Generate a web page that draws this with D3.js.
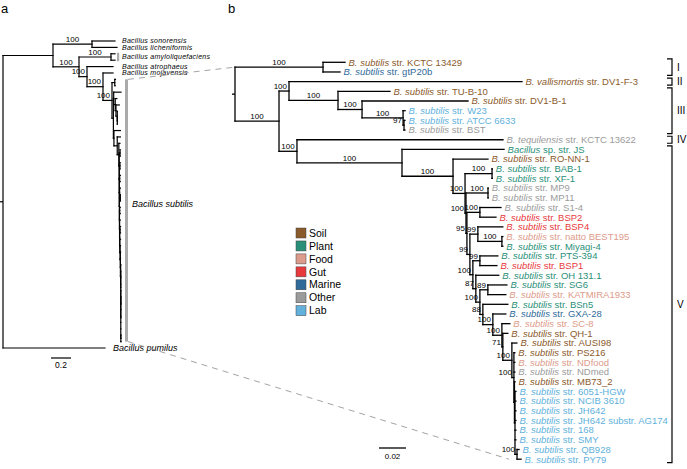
<!DOCTYPE html>
<html><head><meta charset="utf-8">
<script src="https://cdn.jsdelivr.net/npm/d3@7/dist/d3.min.js"></script>
<style>
html,body{margin:0;padding:0;background:#fff;}
svg{display:block;}
text{font-family:"Liberation Sans",Arial,Helvetica,sans-serif;}
.narrow{font-family:"Liberation Sans Narrow","Arial Narrow","Liberation Sans",Arial,sans-serif;}
</style></head><body>
<svg id="chart" width="687" height="469"></svg>
<script>
// ================= DATA =================
const sourceNames  = ["Soil","Plant","Food","Gut","Marine","Other","Lab"];
const sourceColors = ["#8b5a2b","#2a8f79","#dd9b8b","#e8393d","#2f6a9a","#9b9b9b","#61b1dc"];

// panel b leaves, top to bottom
const leafIds = ["KCTC13429","gtP20b","DV1F3","TUB10","DV1B1","W23","ATCC6633","BST","KCTC13622","JS",
  "RONN1","BAB1","XF1","MP9","MP11","S14","BSP2","BSP4","BEST195","Miyagi4","PTS394","BSP1","OH1311",
  "SG6","KATMIRA1933","BSn5","GXA28","SC8","QH1","AUSI98","PS216","NDfood","NDmed","MB73_2","HGW6051",
  "NCIB3610","JH642","AG174","S168","SMY","QB928","PY79"];
const leafTaxa = ["B. subtilis","B. subtilis","B. vallismortis","B. subtilis","B. subtilis","B. subtilis",
  "B. subtilis","B. subtilis","B. tequilensis","Bacillus",
  "B. subtilis","B. subtilis","B. subtilis","B. subtilis","B. subtilis","B. subtilis","B. subtilis",
  "B. subtilis","B. subtilis","B. subtilis","B. subtilis","B. subtilis","B. subtilis","B. subtilis",
  "B. subtilis","B. subtilis","B. subtilis","B. subtilis","B. subtilis","B. subtilis","B. subtilis",
  "B. subtilis","B. subtilis","B. subtilis","B. subtilis","B. subtilis","B. subtilis","B. subtilis",
  "B. subtilis","B. subtilis","B. subtilis","B. subtilis"];
const leafStrains = ["str. KCTC 13429","str. gtP20b","str. DV1-F-3","str. TU-B-10","str. DV1-B-1","str. W23",
  "str. ATCC 6633","str. BST","str. KCTC 13622","sp. str. JS",
  "str. RO-NN-1","str. BAB-1","str. XF-1","str. MP9","str. MP11","str. S1-4","str. BSP2","str. BSP4",
  "str. natto BEST195","str. Miyagi-4","str. PTS-394","str. BSP1","str. OH 131.1","str. SG6",
  "str. KATMIRA1933","str. BSn5","str. GXA-28","str. SC-8","str. QH-1","str. AUSI98","str. PS216",
  "str. NDfood","str. NDmed","str. MB73_2","str. 6051-HGW","str. NCIB 3610","str. JH642",
  "str. JH642 substr. AG174","str. 168","str. SMY","str. QB928","str. PY79"];
const leafSources = ["Soil","Marine","Soil","Soil","Soil","Lab","Lab","Other","Other","Plant",
  "Soil","Plant","Plant","Other","Other","Other","Gut","Gut","Food","Plant","Plant","Gut","Plant",
  "Plant","Food","Plant","Marine","Food","Soil","Soil","Soil","Food","Other","Soil","Lab",
  "Lab","Lab","Lab","Lab","Lab","Lab","Lab"];

// panel b branches: [node, parent, branch length (subst./site), bootstrap]
const branchesB = [
 ["R",null,0,null],
 ["I","R",0.0652,100],["KCTC13429","I",0.0163,null],["gtP20b","I",0.0126,null],
 ["A","R",0.0326,100],["B","A",0.0074,100],["DV1F3","B",0.1726,null],
 ["C","B",0.0363,100],["TUB10","C",0.0385,null],["D","C",0.0178,100],["DV1B1","D",0.0785,null],
 ["E","D",0.0304,100],["W23","E",0.0015,null],["E2","E",0.0007,97],
 ["ATCC6633","E2",0.0007,null],["BST","E2",0.0007,null],
 ["F","A",0.0133,100],["KCTC13622","F",0.1526,null],["H","F",0.0778,100],["JS","H",0.0756,null],
 ["V","H",0.0378,100],["RONN1","V",0.0259,null],
 ["L1","V",0.0089,100],["BX","L1",0.0200,100],["BAB1","BX",0.0002,null],["XF1","BX",0.0002,null],
 ["L2","L1",0.0007,100],["MP","L2",0.0163,100],["MP9","MP",0.0002,null],["MP11","MP",0.0002,null],
 ["L3","L2",0.0007,95],["SB","L3",0.0096,100],["S14","SB",0.0156,null],["BSP2","SB",0.0119,null],
 ["L4","L3",0.0022,99],["N9","L4",0.0059,99],["BSP4","N9",0.0185,null],["NM","N9",0.0178,100],
 ["BEST195","NM",0.0007,null],["Miyagi4","NM",0.0007,null],
 ["L5","L4",0.0022,100],["PB","L5",0.0052,99],["PTS394","PB",0.0133,null],["BSP1","PB",0.0126,null],
 ["L6","L5",0.0022,87],["OH1311","L6",0.0170,null],
 ["L7","L6",0.0030,100],["SK","L7",0.0059,89],["SG6","SK",0.0141,null],["KATMIRA1933","SK",0.0133,null],
 ["L8","L7",0.0022,88],["BSn5","L8",0.0185,null],
 ["L9","L8",0.0074,100],["GXA28","L9",0.0096,null],
 ["L10","L9",0.0067,100],["SC8","L10",0.0059,null],
 ["L11","L10",0.0007,71],["QH1","L11",0.0037,null],
 ["L12","L11",0.0067,100],["AUSI98","L12",0.0037,null],
 ["L13","L12",0.0015,100],["PS216","L13",0.0007,null],["NDfood","L13",0.0007,null],["NDmed","L13",0.0007,null],
 ["X","L13",0.0004,null],["MB73_2","X",0.0004,null],
 ["Y","X",0.0004,null],["HGW6051","Y",0.0007,null],["NCIB3610","Y",0.0007,null],["JH642","Y",0.0007,null],
 ["AG174","Y",0.0007,null],["S168","Y",0.0007,null],["SMY","Y",0.0007,null],
 ["QP","Y",0.0015,100],["QB928","QP",0.0015,null],["PY79","QP",0.0030,null]
];

// clades (first leaf, last leaf)
const cladeNames = ["I","II","III","IV","V"];
const cladeFirst = ["KCTC13429","DV1F3","TUB10","KCTC13622","JS"];
const cladeLast  = ["gtP20b","DV1F3","BST","KCTC13622","PY79"];

// panel a: species backbone (B. subtilis clade "R" is the panel b tree)
const branchesA = [
 ["Ra",null,0,null],
 ["T1","Ra",0.50,null],
 ["SL","T1",0.39,100],["sonorensis","SL",0.23,null],["licheniformis","SL",0.25,null],
 ["T2","T1",0.26,100],["AM","T2",0.32,100],["amy1","AM",0.04,null],["amy2","AM",0.04,null],
 ["T3","T2",0.08,100],["atrophaeus","T3",0.26,null],
 ["T4","T3",0.16,100],["mojavensis","T4",0.10,null],
 ["R","T4",0.09,100],
 ["pumilus","Ra",1.02,null]
];
const leafOrderATop = ["sonorensis","licheniformis","amy1","amy2","atrophaeus","mojavensis"];
const leafOrderABottom = ["pumilus"];
const speciesLabelIds   = ["sonorensis","licheniformis","AM","atrophaeus","mojavensis"];
const speciesLabelNames = ["Bacillus sonorensis","Bacillus licheniformis","Bacillus amyloliquefaciens","Bacillus atrophaeus","Bacillus mojavensis"];
const outgroupName = "Bacillus pumilus";
const cladeNameA = "Bacillus subtilis";
const scaleBarA = 0.2, scaleBarB = 0.02;

// ================= BUILD =================
function build(rows, order){
  const root = d3.stratify().id(d=>d[0]).parentId(d=>d[1])(rows);
  root.eachBefore(n=>{ n.dist = n.parent ? n.parent.dist + n.data[2] : 0; });
  const idx = new Map(order.map((id,i)=>[id,i]));
  root.eachAfter(n=>{
    if(!n.children){ n.li = idx.get(n.id); n.minLi = n.li; }
    else{
      n.children.sort((a,b)=>a.minLi-b.minLi);
      n.li = (n.children[0].li + n.children[n.children.length-1].li)/2;
      n.minLi = n.children[0].minLi;
    }
  });
  return root;
}
const colorOf = d3.scaleOrdinal().domain(sourceNames).range(sourceColors);
const svg = d3.select("#chart");

function drawTree(g, root, fx, fy, sw){
  const nodes = root.descendants();
  g.selectAll("line.h").data(nodes.filter(n=>n.parent)).join("line").attr("class","h")
    .attr("x1",n=>fx(n.parent)).attr("x2",n=>fx(n))
    .attr("y1",n=>fy(n.li)).attr("y2",n=>fy(n.li))
    .attr("stroke","#000").attr("stroke-width",sw).attr("stroke-linecap","square");
  g.selectAll("line.v").data(nodes.filter(n=>n.children)).join("line").attr("class","v")
    .attr("x1",n=>fx(n)).attr("x2",n=>fx(n))
    .attr("y1",n=>fy(n.children[0].li)).attr("y2",n=>fy(n.children[n.children.length-1].li))
    .attr("stroke","#000").attr("stroke-width",sw).attr("stroke-linecap","square");
}
function drawSupport(g, nodes, fx, fy, fs){
  g.selectAll("text.bs").data(nodes).join("text").attr("class","bs")
    .attr("font-size",fs).attr("text-anchor","middle")
    .attr("x",n=>{
      const w = String(n.data[3]).length*fs*0.556;
      const px = fx(n.parent), cx = fx(n);
      return (cx-px < w+4) ? cx-2-w/2 : (px+cx)/2;
    })
    .attr("y",n=>fy(n.li)-2.2)
    .text(n=>n.data[3]);
}

// ---------- panel b ----------
const rootB = build(branchesB, leafIds);
const xB = d3.scaleLinear().domain([0,1]).range([235,235+1350]);
const yB = d3.scaleLinear().domain([0,leafIds.length-1]).range([62.3,459.2]);
const gB = svg.append("g");
drawTree(gB, rootB, n=>xB(n.dist), yB, 1.3);
gB.append("line").attr("x1",xB(0)-3).attr("x2",xB(0)).attr("y1",yB(rootB.li)).attr("y2",yB(rootB.li))
  .attr("stroke","#000").attr("stroke-width",1.3);
drawSupport(gB, rootB.descendants().filter(n=>n.parent && n.data[3]!=null), n=>xB(n.dist), yB, 8);

const leafInfo = new Map(leafIds.map((id,i)=>[id,i]));
const leavesB = rootB.leaves();
const lt = gB.selectAll("text.leaf").data(leavesB).join("text").attr("class","leaf")
  .attr("x",n=>xB(n.dist)+3.5).attr("y",n=>yB(n.li)).attr("dy","0.35em")
  .attr("font-size",9.5)
  .attr("fill",n=>colorOf(leafSources[leafInfo.get(n.id)]));
lt.append("tspan").attr("font-style","italic").text(n=>leafTaxa[leafInfo.get(n.id)]);
lt.append("tspan").text(n=>" "+leafStrains[leafInfo.get(n.id)]);

// scale bar b
const sbLen = xB(scaleBarB)-xB(0);
gB.append("line").attr("x1",379).attr("x2",379+sbLen).attr("y1",448).attr("y2",448).attr("stroke","#000").attr("stroke-width",1.3);
gB.append("text").attr("x",379+sbLen/2).attr("y",459).attr("text-anchor","middle").attr("font-size",8).text(scaleBarB);

// clade brackets
const brX = 672;
cladeNames.forEach((c,i)=>{
  const y1 = yB(leafIds.indexOf(cladeFirst[i])-0.36), y2 = yB(leafIds.indexOf(cladeLast[i])+0.36);
  gB.append("path").attr("d",`M${brX-5},${y1}H${brX}V${y2}H${brX-5}`).attr("fill","none")
    .attr("stroke","#000").attr("stroke-width",1.2);
  gB.append("text").attr("x",brX+5).attr("y",(y1+y2)/2).attr("dy","0.35em").attr("font-size",10).text(c);
});

// legend
const lg = svg.append("g");
sourceNames.forEach((s,i)=>{
  const yc = 233 + i*12.95;
  lg.append("rect").attr("x",296).attr("y",yc-5).attr("width",10).attr("height",10)
    .attr("fill",sourceColors[i]).attr("stroke","#444").attr("stroke-width",0.5);
  lg.append("text").attr("x",309).attr("y",yc).attr("dy","0.35em").attr("font-size",10.5).text(s);
});

// ---------- panel a ----------
const rowsA = branchesA.concat(branchesB.filter(r=>r[0]!=="R"));
const orderA = leafOrderATop.concat(leafIds, leafOrderABottom);
const rootA = build(rowsA, orderA);
const xA = d3.scaleLinear().domain([0,1]).range([3,103]);
const yA = d3.scaleLinear().domain([0,orderA.length-1]).range([41,348]);
const nodeR = rootA.descendants().find(n=>n.id==="R");
const subSet = new Set(nodeR.descendants());
const xSub = d3.scaleLinear().domain([0,d3.max(nodeR.leaves(),n=>n.dist-nodeR.dist)]).range([0,9]);
const fxA = n => subSet.has(n) ? xA(nodeR.dist)+xSub(n.dist-nodeR.dist) : xA(n.dist);
const gA = svg.append("g");
drawTree(gA, rootA, fxA, yA, 1.2);
gA.append("line").attr("x1",0).attr("x2",xA(0)).attr("y1",yA(rootA.li)).attr("y2",yA(rootA.li))
  .attr("stroke","#000").attr("stroke-width",1.2);
drawSupport(gA, rootA.descendants().filter(n=>n.parent && n.data[3]!=null && (!subSet.has(n)||n===nodeR)), fxA, yA, 8);

// gray bars
const amNode = rootA.descendants().find(n=>n.id==="AM");
const amBarX = d3.max(amNode.leaves(),fxA)+2;
gA.append("rect").attr("x",amBarX).attr("y",yA(amNode.leaves()[0].li)-1).attr("width",2.2)
  .attr("height",yA(amNode.leaves()[1].li)-yA(amNode.leaves()[0].li)+2).attr("fill","#aaa");
const subLeaves = nodeR.leaves();
const subBarX = d3.max(subLeaves,fxA)+4;
const subTop = yA(subLeaves[0].li), subBot = yA(subLeaves[subLeaves.length-1].li);
gA.append("rect").attr("x",subBarX).attr("y",subTop).attr("width",3).attr("height",subBot-subTop).attr("fill","#aaa");

// species labels
const labX = amBarX + 5;
speciesLabelIds.forEach((id,i)=>{
  const n = rootA.descendants().find(d=>d.id===id);
  gA.append("text").attr("class","narrow").attr("x",labX).attr("y",yA(n.li)).attr("dy","0.35em")
    .attr("font-size",7).attr("letter-spacing",0.25).attr("font-style","italic").text(speciesLabelNames[i]);
});
const pum = rootA.leaves().find(d=>d.id==="pumilus");
gA.append("text").attr("class","narrow").attr("x",fxA(pum)+8).attr("y",yA(pum.li)).attr("dy","0.35em")
  .attr("font-size",9).attr("font-style","italic").text(outgroupName);
gA.append("text").attr("class","narrow").attr("x",subBarX+7).attr("y",204).attr("dy","0.35em")
  .attr("font-size",9).attr("font-style","italic").text(cladeNameA);

// scale bar a
const sbA = xA(scaleBarA)-xA(0);
gA.append("line").attr("x1",51).attr("x2",51+sbA).attr("y1",358).attr("y2",358).attr("stroke","#000").attr("stroke-width",1.2);
gA.append("text").attr("x",51+sbA/2).attr("y",368).attr("text-anchor","middle").attr("font-size",8.5).text(scaleBarA);

// dashed connectors
const nodeI = rootB.descendants().find(n=>n.id==="I");
const nodeQP = rootB.descendants().find(n=>n.id==="QP");
const conn = [
  [subBarX+3, subTop, xB(0), yB(nodeI.li)],
  [subBarX+3, subBot, xB(nodeQP.dist)-8, yB(leafIds.length-1)]
];
svg.selectAll("line.conn").data(conn).join("line").attr("class","conn")
  .attr("x1",d=>d[0]).attr("y1",d=>d[1]).attr("x2",d=>d[2]).attr("y2",d=>d[3])
  .attr("stroke","#999").attr("stroke-width",0.9).attr("stroke-dasharray","6,5");

// panel letters
svg.append("text").attr("x",1).attr("y",13).attr("font-size",13).text("a");
svg.append("text").attr("x",228).attr("y",13).attr("font-size",13).text("b");
</script>
</body></html>
